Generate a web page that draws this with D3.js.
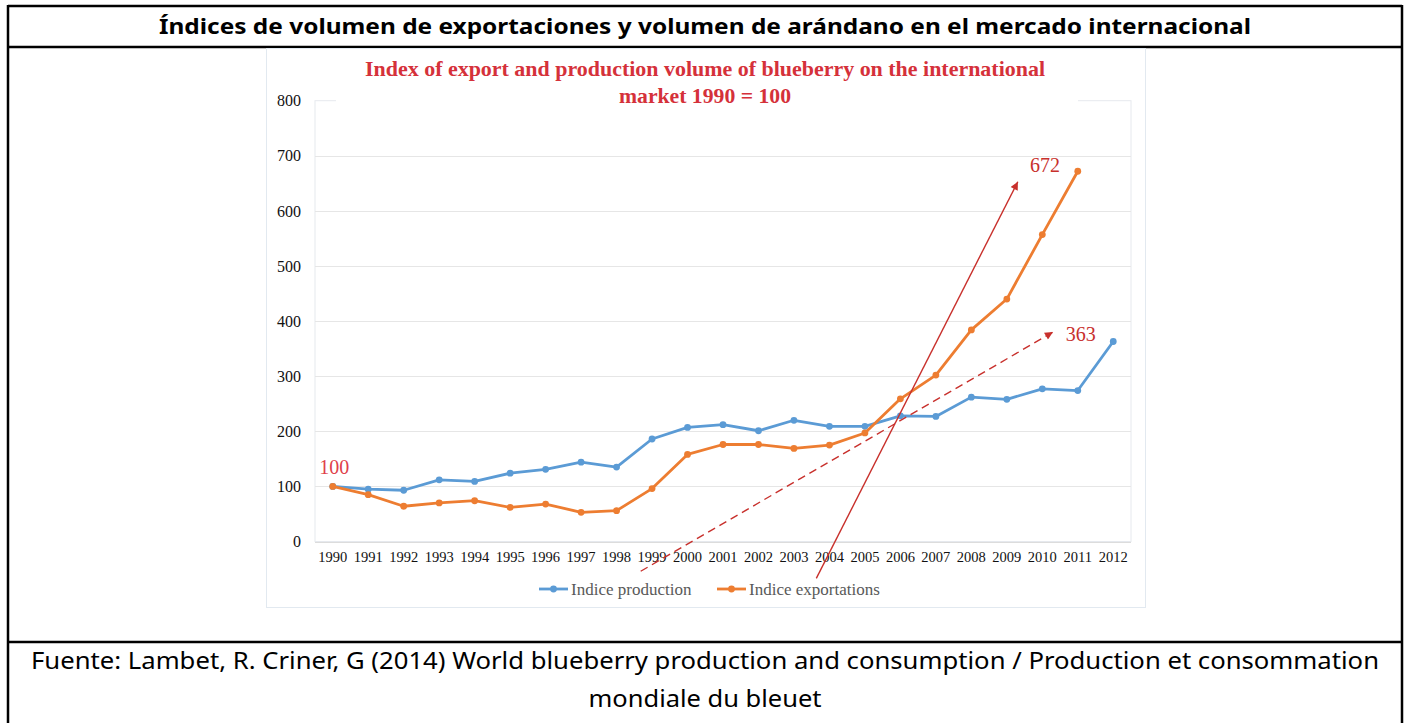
<!DOCTYPE html>
<html><head><meta charset="utf-8">
<script src="https://cdn.jsdelivr.net/npm/d3@7/dist/d3.min.js"></script>
<style>
html,body{margin:0;padding:0;background:#fff;}
svg{display:block;}
</style></head>
<body>
<svg id="c" width="1406" height="723"></svg>
<script>
const years = d3.range(1990, 2013).map(String);
const production = [100,95,93,112,109,124,131,144,135,186,207,212,201,220,209,209,228,227,262,258,277,274,363];
const exportations = [100,85,64,70,74,62,68,53,56,96,158,176,176,169,175,197,259,302,384,440,557,672,null];
const yTicks = [0,100,200,300,400,500,600,700,800];
const seriesNames = ["Indice production","Indice exportations"];
const seriesColors = ["#5b9bd5","#ed7d31"];
const tableTitle = "Índices de volumen de exportaciones y volumen de arándano en el mercado internacional";
const chartTitle = ["Index of export and production volume of blueberry on the international","market 1990 = 100"];
const footer = ["Fuente: Lambet, R. Criner, G (2014) World blueberry production and consumption / Production et consommation","mondiale du bleuet"];
// annotations in (year index, value) units
const annoLabels = [{t:"100", i:-0.38, v:122},{t:"672", i:19.65, v:671},{t:"363", i:20.66, v:364}];
const annoArrows = [{i0:13.63, v0:-67, i1:19.31, v1:653, dash:false},{i0:8.68, v0:-54, i1:20.30, v1:380, dash:true}];

const svg = d3.select("#c");
const red = "#c8302c";
const serif = "Liberation Serif, Times New Roman, serif";

// table borders
const tb = svg.append("g").attr("stroke","#000").attr("stroke-width",2.5).attr("fill","none");
tb.append("line").attr("x1",8).attr("x2",1402).attr("y1",6).attr("y2",6);
tb.append("line").attr("x1",8).attr("x2",1402).attr("y1",47).attr("y2",47);
tb.append("line").attr("x1",8).attr("x2",1402).attr("y1",642).attr("y2",642);
tb.append("line").attr("x1",8).attr("x2",8).attr("y1",5).attr("y2",723);
tb.append("line").attr("x1",1402).attr("x2",1402).attr("y1",5).attr("y2",723);

svg.append("text").attr("x",705).attr("y",34).attr("text-anchor","middle")
  .attr("font-family","Noto Sans, Open Sans, sans-serif").attr("font-weight","bold").attr("font-size",22)
  .attr("textLength",1092).attr("lengthAdjust","spacingAndGlyphs").attr("fill","#000").text(tableTitle);

footer.forEach((t,k)=>{
  svg.append("text").attr("x",705).attr("y",k?707:669).attr("text-anchor","middle")
    .attr("font-family","Noto Sans, Open Sans, sans-serif").attr("font-size",23).attr("fill","#000").text(t)
    .attr("textLength",k?233:1348).attr("lengthAdjust","spacingAndGlyphs");
});

// chart image frame
svg.append("rect").attr("x",266.5).attr("y",48.5).attr("width",879).attr("height",559)
  .attr("fill","#fff").attr("stroke","#e2e9f0").attr("stroke-width",1);

const x = d3.scaleBand().domain(years).range([315,1131]).padding(0);
const y = d3.scaleLinear().domain([0,800]).range([541.5,100.7]);
const xi = d3.scaleLinear().domain([0,22]).range([x(years[0])+x.bandwidth()/2, x(years[22])+x.bandwidth()/2]);

// plot area frame
svg.append("rect").attr("x",315).attr("y",y(800)).attr("width",816).attr("height",y(0)-y(800))
  .attr("fill","none").attr("stroke","#e6e9ee").attr("stroke-width",1);

// gridlines
svg.append("g").selectAll("line").data(yTicks.filter(d=>d<800)).join("line")
  .attr("x1",315).attr("x2",1131).attr("y1",d=>Math.round(y(d))+0.5).attr("y2",d=>Math.round(y(d))+0.5)
  .attr("stroke",d=>d===0?"#dcdcdc":"#e6e6e6").attr("stroke-width",1);

// y axis labels
const ya = svg.append("g").attr("transform","translate(301,0)")
  .call(d3.axisLeft(y).tickValues(yTicks).tickSize(0).tickPadding(0));
ya.select(".domain").remove();
ya.selectAll("text").attr("font-family",serif).attr("font-size",16).attr("fill","#111");

// x axis labels
const xa = svg.append("g").attr("transform",`translate(0,${y(0)})`)
  .call(d3.axisBottom(x).tickSize(0).tickPadding(10));
xa.select(".domain").remove();
xa.selectAll("text").attr("font-family",serif).attr("font-size",14.5).attr("fill","#111");

// white box behind chart title (covers top frame)
svg.append("rect").attr("x",336).attr("y",52).attr("width",742).attr("height",58).attr("fill","#fff");
chartTitle.forEach((t,k)=>{
  svg.append("text").attr("x",705).attr("y",k?103:76).attr("text-anchor","middle")
    .attr("font-family",serif).attr("font-weight","bold").attr("font-size",21)
    .attr("textLength",k?172:680).attr("lengthAdjust","spacingAndGlyphs")
    .attr("fill","#d5313a").text(t);
});

// series
const sets = [production, exportations];
sets.forEach((vals,s)=>{
  const pts = vals.map((v,i)=>({i,v})).filter(d=>d.v!=null);
  const line = d3.line().x(d=>xi(d.i)).y(d=>y(d.v));
  svg.append("path").datum(pts).attr("d",line).attr("fill","none")
    .attr("stroke",seriesColors[s]).attr("stroke-width",2.8).attr("stroke-linejoin","round");
  svg.append("g").selectAll("circle").data(pts).join("circle")
    .attr("cx",d=>xi(d.i)).attr("cy",d=>y(d.v)).attr("r",3.4).attr("fill",seriesColors[s]);
});

// arrow marker
const defs = svg.append("defs");
defs.append("marker").attr("id","ah").attr("viewBox","0 0 10 10").attr("refX",10).attr("refY",5)
  .attr("markerWidth",10).attr("markerHeight",8).attr("markerUnits","userSpaceOnUse").attr("orient","auto")
  .append("path").attr("d","M0,0L10,5L0,10Z").attr("fill",red);

annoArrows.forEach(a=>{
  svg.append("line").attr("x1",xi(a.i0)).attr("y1",y(a.v0)).attr("x2",xi(a.i1)).attr("y2",y(a.v1))
    .attr("stroke",red).attr("stroke-width",1.4).attr("stroke-dasharray",a.dash?"8,5":null)
    .attr("marker-end","url(#ah)");
});
annoLabels.forEach((a,k)=>{
  svg.append("text").attr("x",xi(a.i)).attr("y",y(a.v))
    .attr("font-family",serif).attr("font-size",20)
    .attr("fill",k===0?"#e0404a":red).text(a.t);
});

// legend
const lg = svg.append("g");
const legX = [539, 717];
seriesNames.forEach((n,s)=>{
  lg.append("line").attr("x1",legX[s]).attr("x2",legX[s]+29).attr("y1",589).attr("y2",589)
    .attr("stroke",seriesColors[s]).attr("stroke-width",2.8);
  lg.append("circle").attr("cx",legX[s]+14.5).attr("cy",589).attr("r",3.4).attr("fill",seriesColors[s]);
  lg.append("text").attr("x",legX[s]+32).attr("y",594.5).attr("font-family",serif)
    .attr("font-size",17).attr("fill","#595959").text(n);
});
</script>
</body></html>
